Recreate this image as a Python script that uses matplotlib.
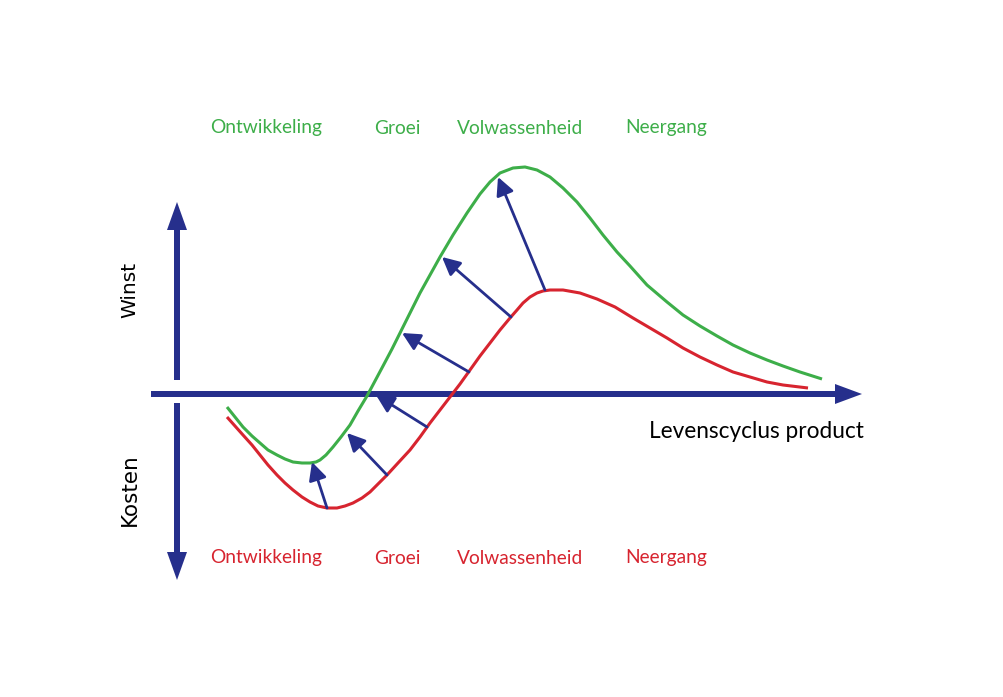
import matplotlib
matplotlib.use("Agg")
import matplotlib.pyplot as plt

# phases of the product life cycle
phases = ["Ontwikkeling", "Groei", "Volwassenheid", "Neergang"]
phase_x = [266, 397, 520, 666]

# curves (pixel space, y downwards)
winst_x = [227, 235, 243, 252, 260, 268, 277, 285, 293, 302, 310, 316, 320, 326, 333, 341, 350, 358,
           367, 375, 383, 392, 400, 410, 420, 430, 440, 453, 467, 480, 490, 500, 513, 525, 537, 550,
           563, 577, 590, 603, 617, 630, 647, 667, 683, 700, 717, 733, 750, 767, 783, 800, 822]
winst_y = [407, 417, 427, 436, 443, 450, 455, 459, 462, 463, 463, 462, 460, 455, 447, 437, 425, 411,
           396, 381, 366, 349, 333, 313, 293, 275, 257, 235, 213, 194, 182, 173, 168, 167, 170, 177,
           188, 202, 218, 235, 252, 266, 285, 302, 315, 326, 336, 345, 353, 360, 366, 372, 379]

kosten_x = [227, 235, 243, 252, 260, 268, 277, 285, 293, 302, 310, 318, 327, 337, 345, 353, 362, 370,
            378, 387, 398, 410, 420, 430, 440, 450, 460, 470, 480, 490, 500, 510, 517, 523, 530, 537,
            543, 550, 563, 580, 597, 615, 633, 650, 667, 683, 700, 717, 733, 750, 767, 783, 808]
kosten_y = [417, 426, 435, 445, 455, 465, 475, 483, 490, 497, 502, 506, 508, 508, 506, 503, 498, 492,
            484, 475, 463, 450, 437, 423, 410, 397, 384, 370, 356, 343, 330, 318, 310, 303, 297, 293,
            291, 290, 290, 293, 299, 307, 318, 328, 338, 348, 357, 365, 372, 377, 382, 385, 388]

# arrows from cost curve to profit curve (tail, head)
arrow_tail = [(327, 508), (387, 475), (427, 427), (469, 372), (511, 317), (545, 290)]
arrow_head = [(312, 462), (347, 433), (376, 395), (402, 333), (442, 257), (498, 177)]

GREEN = "#3dae49"
RED = "#d7242f"
BLUE = "#262f8c"

fig = plt.figure(figsize=(10.04, 6.97), dpi=100)
ax = fig.add_axes([0, 0, 1, 1])
ax.set_xlim(0, 1004)
ax.set_ylim(697, 0)
ax.axis("off")

# main axes
ax.arrow(151, 394, 711, 0, width=6, head_width=20, head_length=27,
         length_includes_head=True, color=BLUE, lw=0)
ax.arrow(177, 380, 0, -178, width=6, head_width=20, head_length=28,
         length_includes_head=True, color=BLUE, lw=0)
ax.arrow(177, 403, 0, 177, width=6, head_width=20, head_length=28,
         length_includes_head=True, color=BLUE, lw=0)

ax.plot(winst_x, winst_y, color=GREEN, lw=2.2, solid_joinstyle="round", solid_capstyle="butt")
ax.plot(kosten_x, kosten_y, color=RED, lw=2.2, solid_joinstyle="round", solid_capstyle="butt")

for t, h in zip(arrow_tail, arrow_head):
    ax.annotate("", xy=h, xytext=t,
                arrowprops=dict(arrowstyle="-|>,head_length=0.9,head_width=0.45",
                                color=BLUE, lw=2, mutation_scale=12,
                                shrinkA=0, shrinkB=0))

for name, x in zip(phases, phase_x):
    ax.text(x, 128, name, color=GREEN, fontsize=13.8, family="Lato", ha="center", va="center")
    ax.text(x, 558, name, color=RED, fontsize=13.8, family="Lato", ha="center", va="center")

ax.text(649, 432, "Levenscyclus product", fontsize=16.3, family="Lato", ha="left", va="center")
ax.text(130, 290, "Winst", fontsize=14.5, rotation=90, ha="center", va="center")
ax.text(130, 490, "Kosten", fontsize=15.5, rotation=90, ha="center", va="center")

fig.savefig("out.png", dpi=100)
